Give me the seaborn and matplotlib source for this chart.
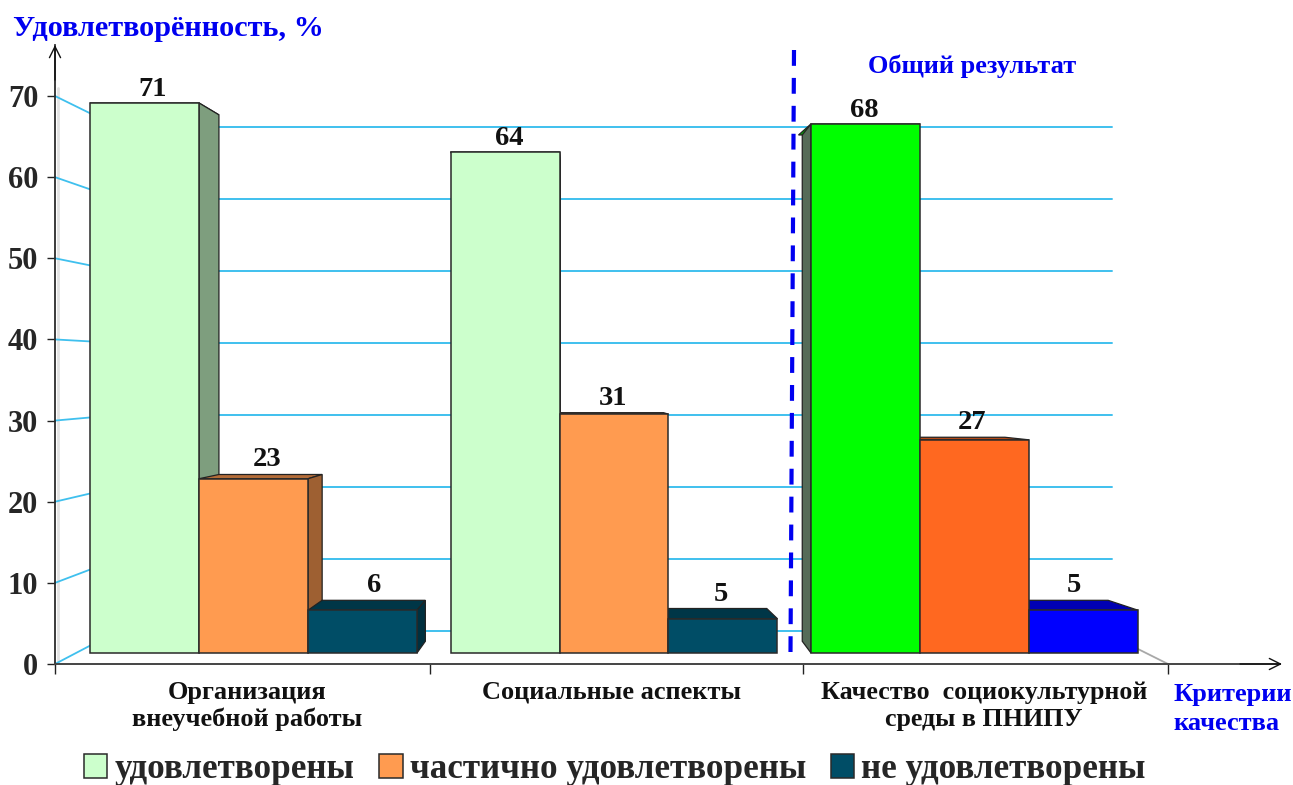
import matplotlib

matplotlib.use("Agg")

import matplotlib.pyplot as plt
import pandas as pd
import seaborn as sns
from matplotlib.colors import to_rgb
from matplotlib.patches import Polygon
from matplotlib.transforms import Affine2D

# values as printed above the bars
criteria = ["Организация\nвнеучебной работы", "Социальные аспекты", "Качество  социокультурной\nсреды в ПНИПУ"]
statuses = ["удовлетворены", "частично удовлетворены", "не удовлетворены"]
satisfied_labels = [71, 64, 68]
partly_labels = [23, 31, 27]
unsatisfied_labels = [6, 5, 5]

# heights of the bars as they are actually drawn
satisfied_heights = [70.7, 64.4, 68.0]
partly_heights = [22.4, 30.7, 27.4]
unsatisfied_heights = [5.5, 4.4, 5.5]

y_ticks = [0, 10, 20, 30, 40, 50, 60, 70]

legend_colors = ["#CCFFCC", "#FF9B50", "#004D66"]
bar_colors = [
    ["#CCFFCC", "#CCFFCC", "#00FF00"],
    ["#FF9B50", "#FF9B50", "#FF6820"],
    ["#004D66", "#004D66", "#0000FF"],
]

W, H = 1293, 785
BLUE = "#0000F0"
GRID = "#3FC0EE"
SERIF = "Liberation Serif"

# perspective of the fake 3D bars, in pixels
VP_X, VP_Y = 575, 380
K_X, K_Y = 0.053, 0.043
LABEL_SHIFT = [[8, 4, -1], [14, -1, -2], [12, -2, -10]]

sns.set_theme(style="white")
plt.rcParams["font.family"] = [SERIF, "DejaVu Sans"]
plt.rcParams["font.weight"] = "bold"

fig = plt.figure(figsize=(W / 100, H / 100), dpi=100)
PX = Affine2D().scale(1, -1).translate(0, H)


def fig_rect(left, top, right, bottom):
    return [left / W, 1 - bottom / H, (right - left) / W, (bottom - top) / H]


def put_text(x, y, text, **kwargs):
    fig.text(x / W, 1 - y / H, text, fontweight="bold", **kwargs)


def darker(color, factor=0.62):
    return tuple(c * factor for c in to_rgb(color))


def back_point(x, y):
    return x + K_X * (VP_X - x), y + K_Y * (VP_Y - y)


# frame with the real y axis
frame = fig.add_axes(fig_rect(55, 45, 1280, 664), zorder=1)
frame.patch.set_alpha(0)
frame.set_xlim(55, 1280)
frame.set_ylim(0, (664 - 45) / 8.114)
frame.set_yticks(y_ticks)
frame.set_xticks([55, 430, 803, 1168])
frame.set_xticklabels([])
frame.tick_params(axis="y", length=6, width=1, color="#222222", pad=6, labelsize=22, left=True)
frame.tick_params(axis="x", length=7, width=1, color="#222222", bottom=True)
frame.spines[["top", "right"]].set_visible(False)
frame.spines["left"].set_color("#222222")
frame.spines["bottom"].set_color("#444444")
frame.spines["bottom"].set_linewidth(1.4)
arrow = dict(arrowstyle="->", color="#111111", lw=1, mutation_scale=20, shrinkA=0, shrinkB=0)
frame.annotate("", xy=(55, 45), xytext=(55, 80), xycoords=PX, textcoords=PX, arrowprops=arrow, annotation_clip=False)
frame.annotate("", xy=(1282, 664), xytext=(1240, 664), xycoords=PX, textcoords=PX, arrowprops=arrow, annotation_clip=False)

# walls behind the bars
frame.plot([58, 58], [88, 662], color="#E2E2E2", lw=2, transform=PX, clip_on=False)
frame.plot([1168, 1102], [664, 631], color="#A8A8A8", lw=1.3, transform=PX, clip_on=False)
for tick in y_ticks:
    wall_y = 631 - 7.2 * tick
    frame.plot([55, 118], [664 - 8.114 * tick, wall_y], color=GRID, lw=1.3, transform=PX, clip_on=False)
    frame.plot([118, 1112], [wall_y, wall_y], color=GRID, lw=1.4, transform=PX, clip_on=False)

frame.plot([794, 790.5], [50, 652], color=BLUE, lw=3, dashes=(3.8, 2.9), transform=PX, clip_on=False)

# bars, on an axes that fills the whole figure
df = pd.DataFrame(
    {
        "criterion": criteria * 3,
        "status": [s for s in statuses for _ in criteria],
        "height": satisfied_heights + partly_heights + unsatisfied_heights,
    }
)

ax = fig.add_axes([0, 0, 1, 1], zorder=2)
ax.patch.set_alpha(0)
sns.barplot(
    data=df,
    x="criterion",
    y="height",
    hue="status",
    hue_order=statuses,
    palette=legend_colors,
    saturation=1,
    width=0.907,
    gap=0,
    errorbar=None,
    edgecolor="#2A2A2A",
    linewidth=1.1,
    zorder=5,
    ax=ax,
)
ax.set_xlim(-253.5 / 360.5, (W - 253.5) / 360.5)
ax.set_ylim((653 - H) / 7.78, 653 / 7.78)

all_labels = [satisfied_labels, partly_labels, unsatisfied_labels]
for hue_i, container in enumerate(ax.containers):
    for cat_i, bar in enumerate(container):
        color = bar_colors[hue_i][cat_i]
        bar.set_facecolor(color)
        (x0, y1), (x1, y0) = ax.transData.transform(
            [(bar.get_x(), 0), (bar.get_x() + bar.get_width(), bar.get_height())]
        )
        # display -> image pixels, y from the top
        y0, y1 = H - y0, H - y1
        top_left, top_right = back_point(x0, y0), back_point(x1, y0)
        base_left, base_right = back_point(x0, y1), back_point(x1, y1)
        edge = dict(edgecolor="#222222", linewidth=0.9, transform=PX, zorder=3 + hue_i * 0.1)
        ax.add_patch(Polygon([(x0, y0), top_left, top_right, (x1, y0)], facecolor=darker(color, 0.7), **edge))
        if top_right[0] > x1:
            ax.add_patch(Polygon([(x1, y0), top_right, base_right, (x1, y1)], facecolor=darker(color), **edge))
        if hue_i == 0 and top_left[0] < x0:
            # the left face is greyer and narrower than the right ones
            left_x = x0 + 0.7 * (top_left[0] - x0)
            ax.add_patch(
                Polygon([(x0, y0), (left_x, top_left[1]), (left_x, base_left[1]), (x0, y1)], facecolor="#566B58", **edge)
            )
        label_y = min(y0, top_left[1]) - (13 if top_left[1] > y0 else 14.5)
        put_text((x0 + x1) / 2 + LABEL_SHIFT[hue_i][cat_i], label_y, str(all_labels[hue_i][cat_i]),
                 ha="center", va="center", fontsize=20.5, color="#111111")

handles, names = ax.get_legend_handles_labels()
ax.legend(
    handles,
    names,
    loc="center left",
    bbox_to_anchor=(84 / W, 1 - 770 / H),
    bbox_transform=fig.transFigure,
    ncol=3,
    frameon=False,
    fontsize=25.3,
    handlelength=0.66,
    handleheight=0.66,
    handletextpad=0.2,
    columnspacing=0.72,
    borderpad=0,
    borderaxespad=0,
)
ax.set_axis_off()

put_text(13, 28, "Удовлетворённость, %", ha="left", va="center", fontsize=21.8, color=BLUE)
put_text(868, 66, "Общий результат", ha="left", va="center", fontsize=19, color=BLUE)
put_text(1173, 709, "Критерии\nкачества", ha="left", va="center", fontsize=19, color=BLUE, linespacing=1.3)
put_text(247, 706, criteria[0], ha="center", va="center", fontsize=19, color="#111111", linespacing=1.2)
put_text(612, 692, criteria[1], ha="center", va="center", fontsize=19, color="#111111")
put_text(984, 706, criteria[2], ha="center", va="center", fontsize=18.7, color="#111111", linespacing=1.2)

fig.savefig("out.png", dpi=100)
